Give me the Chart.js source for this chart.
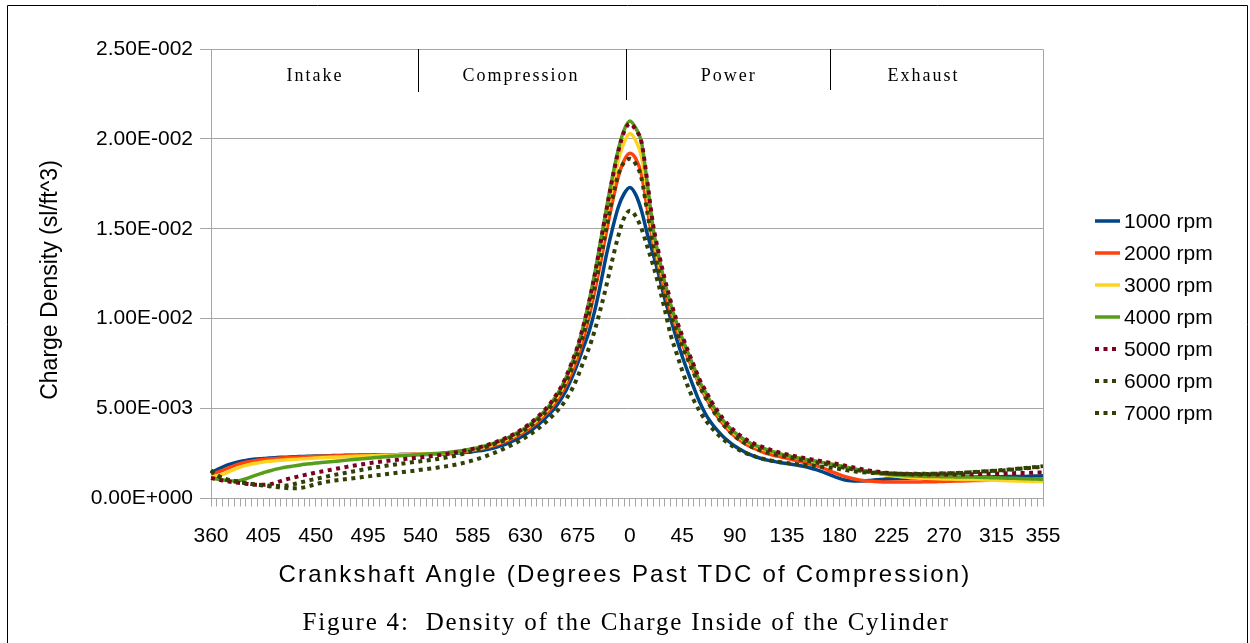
<!DOCTYPE html>
<html>
<head>
<meta charset="utf-8">
<script src="https://cdn.jsdelivr.net/npm/chart.js@4.4.0/dist/chart.umd.min.js"></script>
<style>
  html, body { margin: 0; padding: 0; background: #fff; }
  #wrap { width: 1250px; height: 643px; }
</style>
</head>
<body>
<div id="wrap"><canvas id="densityChart" width="1250" height="643"></canvas></div>
<script>
// crank angle categories: 360..715 (intake+compression), then 0..355 (power+exhaust)
const crankAngles = Array.from({ length: 144 }, (_, i) => (360 + 5 * i) % 720);
const shownAngles = [360, 405, 450, 495, 540, 585, 630, 675, 0, 45, 90, 135, 180, 225, 270, 315, 355];
const yTickLabels = ['0.00E+000', '5.00E-003', '1.00E-002', '1.50E-002', '2.00E-002', '2.50E-002'];
const seriesNames = ['1000 rpm', '2000 rpm', '3000 rpm', '4000 rpm', '5000 rpm', '6000 rpm', '7000 rpm'];
const phaseNames = ['Intake', 'Compression', 'Power', 'Exhaust'];

// charge density, in units of 1e-3 sl/ft^3
const rpm1000 = [
  1.45,1.6,1.75,1.88,1.98,2.06,2.12,2.17,2.2,2.23,2.25,2.27,2.29,2.3,2.32,2.33,2.34,2.35,2.36,2.37,2.38,2.39,2.39,2.4,2.41,2.41,2.42,2.42,2.43,2.43,2.44,2.44,2.44,2.45,2.45,2.45,
  2.45,2.45,2.46,2.47,2.48,2.5,2.52,2.54,2.57,2.61,2.65,2.7,2.77,2.85,2.95,3.07,3.21,3.37,3.56,3.78,4.04,4.33,4.65,5.0,5.45,6.0,6.7,7.5,8.4,9.3,10.5,12.0,13.6,15.0,16.2,16.95,
  17.3,16.9,16.0,14.7,13.6,12.4,11.1,10.0,8.9,7.9,7.0,6.15,5.35,4.7,4.2,3.8,3.45,3.17,2.92,2.72,2.54,2.4,2.28,2.18,2.11,2.05,1.99,1.94,1.89,1.84,1.78,1.7,1.61,1.5,1.37,1.24,
  1.12,1.03,0.98,0.97,0.98,1.0,1.03,1.06,1.08,1.1,1.11,1.12,1.13,1.14,1.14,1.15,1.15,1.16,1.16,1.17,1.17,1.18,1.18,1.19,1.19,1.2,1.2,1.21,1.21,1.22,1.22,1.23,1.23,1.24,1.25,1.26
];
const rpm2000 = [
  1.35,1.45,1.57,1.7,1.83,1.94,2.02,2.08,2.13,2.17,2.2,2.23,2.25,2.27,2.29,2.3,2.31,2.33,2.34,2.35,2.36,2.37,2.38,2.39,2.4,2.4,2.41,2.42,2.42,2.43,2.43,2.44,2.44,2.45,2.45,2.46,
  2.46,2.47,2.48,2.49,2.51,2.53,2.56,2.59,2.63,2.68,2.74,2.81,2.89,2.99,3.1,3.23,3.38,3.55,3.75,3.97,4.23,4.52,4.85,5.25,5.72,6.3,7.0,7.85,8.9,10.15,11.6,13.2,14.9,16.5,17.9,18.8,
  19.2,18.9,18.0,16.1,14.2,12.8,11.5,10.4,9.45,8.6,7.8,7.05,6.3,5.65,5.08,4.58,4.15,3.78,3.47,3.22,3.01,2.84,2.7,2.55,2.46,2.38,2.31,2.23,2.15,2.08,2.0,1.92,1.83,1.72,1.58,1.45,
  1.33,1.22,1.13,1.06,1.0,0.97,0.95,0.93,0.92,0.92,0.92,0.92,0.92,0.92,0.92,0.93,0.93,0.94,0.95,0.96,0.97,0.98,0.99,1.0,1.0,1.01,1.01,1.02,1.02,1.02,1.03,1.03,1.03,1.04,1.04,1.04
];
const rpm3000 = [
  1.2,1.25,1.35,1.48,1.62,1.74,1.84,1.92,1.98,2.03,2.07,2.1,2.13,2.15,2.17,2.19,2.21,2.23,2.25,2.27,2.28,2.3,2.31,2.32,2.34,2.35,2.36,2.37,2.38,2.39,2.4,2.41,2.42,2.43,2.44,2.45,
  2.46,2.47,2.48,2.5,2.52,2.55,2.58,2.62,2.67,2.72,2.78,2.86,2.95,3.05,3.17,3.31,3.47,3.65,3.86,4.09,4.36,4.66,5.0,5.43,5.92,6.55,7.3,8.2,9.35,10.7,12.2,13.9,15.7,17.3,18.8,19.8,
  20.3,19.9,19.0,16.9,14.6,13.1,11.9,10.7,9.7,8.8,8.0,7.2,6.42,5.8,5.25,4.75,4.3,3.92,3.61,3.36,3.15,2.98,2.85,2.74,2.64,2.55,2.47,2.39,2.32,2.25,2.19,2.13,2.07,2.01,1.95,1.89,
  1.82,1.75,1.68,1.61,1.54,1.47,1.41,1.36,1.31,1.27,1.23,1.2,1.17,1.15,1.13,1.12,1.11,1.1,1.09,1.08,1.07,1.06,1.06,1.05,1.04,1.03,1.02,1.01,1.0,0.99,0.98,0.97,0.96,0.95,0.95,0.94
];
const rpm4000 = [
  1.12,1.08,1.03,1.0,0.98,1.0,1.1,1.22,1.33,1.43,1.53,1.62,1.69,1.75,1.8,1.85,1.9,1.93,1.97,2.0,2.03,2.06,2.09,2.12,2.15,2.18,2.21,2.24,2.27,2.3,2.32,2.35,2.37,2.39,2.41,2.43,
  2.45,2.47,2.49,2.51,2.54,2.57,2.61,2.66,2.71,2.77,2.84,2.92,3.01,3.12,3.24,3.38,3.54,3.72,3.93,4.17,4.44,4.75,5.1,5.55,6.05,6.7,7.5,8.4,9.6,11.0,12.6,14.4,16.2,17.9,19.4,20.5,
  21.0,20.6,19.8,17.5,15.0,13.4,12.0,10.8,9.8,8.9,8.1,7.3,6.5,5.9,5.3,4.8,4.35,3.98,3.68,3.42,3.2,3.03,2.9,2.78,2.67,2.56,2.47,2.39,2.32,2.25,2.19,2.13,2.07,2.01,1.95,1.89,
  1.83,1.76,1.69,1.62,1.56,1.5,1.45,1.4,1.36,1.33,1.3,1.28,1.26,1.25,1.24,1.23,1.22,1.22,1.21,1.21,1.2,1.2,1.19,1.19,1.18,1.17,1.16,1.15,1.14,1.13,1.12,1.11,1.1,1.09,1.08,1.07
];
const rpm5000 = [
  1.14,1.08,1.0,0.95,0.9,0.86,0.82,0.78,0.76,0.76,0.79,0.86,0.97,1.07,1.15,1.23,1.3,1.37,1.44,1.5,1.56,1.62,1.68,1.74,1.8,1.85,1.9,1.95,2.0,2.04,2.08,2.12,2.15,2.19,2.22,2.25,
  2.28,2.32,2.36,2.4,2.45,2.5,2.56,2.62,2.69,2.76,2.84,2.93,3.03,3.14,3.27,3.41,3.57,3.76,3.97,4.21,4.49,4.8,5.15,5.6,6.1,6.75,7.55,8.45,9.6,10.95,12.5,14.3,16.1,17.8,19.3,20.4,
  20.85,20.5,19.8,17.6,15.2,13.6,12.2,11.0,9.95,9.05,8.2,7.4,6.6,6.0,5.4,4.9,4.45,4.07,3.76,3.5,3.28,3.1,2.96,2.84,2.73,2.62,2.53,2.45,2.38,2.31,2.25,2.19,2.13,2.07,2.01,1.95,
  1.9,1.83,1.76,1.69,1.62,1.56,1.51,1.47,1.43,1.4,1.38,1.36,1.35,1.34,1.33,1.33,1.33,1.33,1.33,1.33,1.34,1.34,1.35,1.35,1.36,1.37,1.37,1.38,1.39,1.4,1.41,1.42,1.42,1.43,1.44,1.44
];
const rpm6000 = [
  1.55,1.3,1.14,1.05,0.98,0.92,0.86,0.81,0.77,0.74,0.71,0.7,0.7,0.72,0.78,0.86,0.94,1.02,1.09,1.16,1.23,1.3,1.36,1.42,1.48,1.54,1.6,1.66,1.72,1.77,1.82,1.87,1.91,1.95,1.99,2.03,
  2.07,2.11,2.15,2.2,2.25,2.31,2.38,2.46,2.55,2.64,2.74,2.84,2.95,3.06,3.18,3.31,3.46,3.63,3.83,4.06,4.32,4.62,4.96,5.38,5.86,6.45,7.2,8.05,9.1,10.35,11.8,13.4,15.1,16.7,18.0,18.7,
  18.9,18.6,17.8,15.9,14.0,12.6,11.3,10.2,9.3,8.45,7.7,6.95,6.22,5.6,5.04,4.55,4.13,3.77,3.47,3.22,3.02,2.86,2.73,2.62,2.53,2.45,2.38,2.31,2.25,2.19,2.13,2.07,2.01,1.95,1.89,1.83,
  1.76,1.7,1.64,1.58,1.53,1.49,1.46,1.43,1.41,1.39,1.38,1.37,1.36,1.36,1.36,1.36,1.37,1.38,1.39,1.4,1.41,1.42,1.44,1.46,1.48,1.5,1.52,1.54,1.56,1.59,1.62,1.65,1.68,1.71,1.74,1.77
];
const rpm7000 = [
  1.55,1.3,1.12,1.02,0.95,0.9,0.85,0.8,0.76,0.72,0.68,0.64,0.61,0.58,0.57,0.58,0.62,0.7,0.8,0.88,0.94,0.99,1.03,1.07,1.11,1.15,1.19,1.23,1.27,1.31,1.35,1.39,1.43,1.47,1.51,1.55,
  1.6,1.64,1.68,1.72,1.77,1.82,1.88,1.95,2.03,2.12,2.22,2.33,2.45,2.58,2.72,2.87,3.03,3.2,3.39,3.6,3.83,4.09,4.38,4.7,5.05,5.5,6.05,6.75,7.6,8.4,9.4,10.6,11.9,13.3,14.6,15.6,
  16.0,15.7,15.0,14.0,12.96,11.8,10.5,9.1,8.1,7.1,6.2,5.45,4.85,4.35,3.95,3.6,3.3,3.05,2.84,2.66,2.51,2.39,2.29,2.2,2.13,2.07,2.02,1.97,1.93,1.89,1.86,1.83,1.8,1.77,1.73,1.69,
  1.64,1.58,1.53,1.49,1.46,1.44,1.42,1.41,1.4,1.39,1.38,1.37,1.37,1.37,1.37,1.38,1.38,1.39,1.4,1.41,1.42,1.43,1.45,1.47,1.49,1.51,1.53,1.55,1.58,1.61,1.64,1.67,1.7,1.73,1.76,1.8
];

const seriesValues = [rpm1000, rpm2000, rpm3000, rpm4000, rpm5000, rpm6000, rpm7000];
const seriesColors = ['#004586', '#ff420e', '#ffd320', '#579d1c', '#7e0021', '#314004', '#314004'];
const dotted = [false, false, false, false, true, true, true];

const SANS = '"Liberation Sans", Arial, sans-serif';
const SERIF = '"Liberation Serif", "Times New Roman", serif';
const GRID = '#a6a6a6';

const datasets = seriesValues.map((vals, i) => ({
  label: seriesNames[i],
  data: vals,
  borderColor: seriesColors[i],
  backgroundColor: seriesColors[i],
  borderWidth: dotted[i] ? 4 : 3.5,
  borderDash: dotted[i] ? [4, 4.5] : [],
  borderCapStyle: 'butt',
  pointRadius: 0,
  cubicInterpolationMode: 'monotone',
  order: seriesValues.length - i
}));

// frame, phase strip, axis titles, legend and caption
const decor = {
  id: 'decor',
  afterDraw(chart) {
    const { ctx, chartArea: a, scales: { x } } = chart;
    ctx.save();

    ctx.strokeStyle = '#000';
    ctx.lineWidth = 1;
    ctx.beginPath();
    ctx.moveTo(7.5, 700); ctx.lineTo(7.5, 5.5); ctx.lineTo(1247.5, 5.5); ctx.lineTo(1247.5, 700);
    ctx.stroke();

    // plot box top and right
    ctx.strokeStyle = GRID;
    ctx.beginPath();
    ctx.moveTo(a.left, a.top + 0.5); ctx.lineTo(a.right + 0.5, a.top + 0.5); ctx.lineTo(a.right + 0.5, a.bottom);
    ctx.stroke();

    // stroke phases
    const edges = [[35.6, 92], [71.3, 100], [106.4, 90]];
    ctx.strokeStyle = '#000';
    edges.forEach(([pos, yEnd]) => {
      const px = Math.round(x.getPixelForValue(pos)) + 0.5;
      ctx.beginPath();
      ctx.moveTo(px, a.top);
      ctx.lineTo(px, yEnd);
      ctx.stroke();
    });
    const centers = [17.7, 53.1, 88.8, 122.3];
    ctx.fillStyle = '#000';
    ctx.font = '18px ' + SERIF;
    ctx.letterSpacing = '2px';
    ctx.textAlign = 'center';
    ctx.textBaseline = 'middle';
    phaseNames.forEach((name, i) => {
      ctx.fillText(name, x.getPixelForValue(centers[i]) + 1, 76);
    });

    // x axis title
    ctx.font = '24px ' + SANS;
    ctx.letterSpacing = '2.2px';
    ctx.fillText('Crankshaft Angle (Degrees Past TDC of Compression)', 625, 575);

    // caption
    ctx.font = '25px ' + SERIF;
    ctx.letterSpacing = '1.8px';
    ctx.fillText('Figure 4:  Density of the Charge Inside of the Cylinder', 626, 623);
    ctx.letterSpacing = '0px';

    // y axis title
    ctx.save();
    ctx.translate(51, 280);
    ctx.rotate(-Math.PI / 2);
    ctx.font = '23px ' + SANS;
    ctx.fillText('Charge Density (sl/ft^3)', 0, 0);
    ctx.restore();

    // legend
    ctx.font = '21px ' + SANS;
    ctx.textAlign = 'left';
    chart.data.datasets.forEach((ds, i) => {
      const y = 221 + 32 * i;
      ctx.strokeStyle = ds.borderColor;
      ctx.lineWidth = ds.borderWidth;
      ctx.setLineDash(ds.borderDash);
      ctx.beginPath();
      ctx.moveTo(1095, y);
      ctx.lineTo(1120, y);
      ctx.stroke();
      ctx.setLineDash([]);
      ctx.fillStyle = '#000';
      ctx.fillText(ds.label, 1124, y + 1);
    });

    ctx.restore();
  }
};

new Chart(document.getElementById('densityChart'), {
  type: 'line',
  data: { labels: crankAngles, datasets },
  options: {
    responsive: false,
    animation: false,
    layout: { padding: { left: 38, right: 207, top: 49, bottom: 56 } },
    scales: {
      x: {
        afterFit: s => { s.height = 88.5; },
        grid: { drawOnChartArea: false, color: GRID, tickLength: 8 },
        border: { color: GRID },
        ticks: {
          autoSkip: false,
          maxRotation: 0,
          padding: 17,
          color: '#000',
          font: { family: SANS, size: 21 },
          callback: (v, i) => shownAngles.includes(crankAngles[i]) ? String(crankAngles[i]) : ''
        }
      },
      y: {
        min: 0,
        max: 25,
        afterFit: s => { s.width = 173; },
        grid: { color: GRID, tickLength: 11 },
        border: { color: GRID },
        ticks: {
          stepSize: 5,
          padding: 7,
          color: '#000',
          font: { family: SANS, size: 21 },
          callback: (v, i) => yTickLabels[i]
        }
      }
    },
    plugins: { legend: { display: false }, tooltip: { enabled: false } }
  },
  plugins: [decor]
});
</script>
</body>
</html>
